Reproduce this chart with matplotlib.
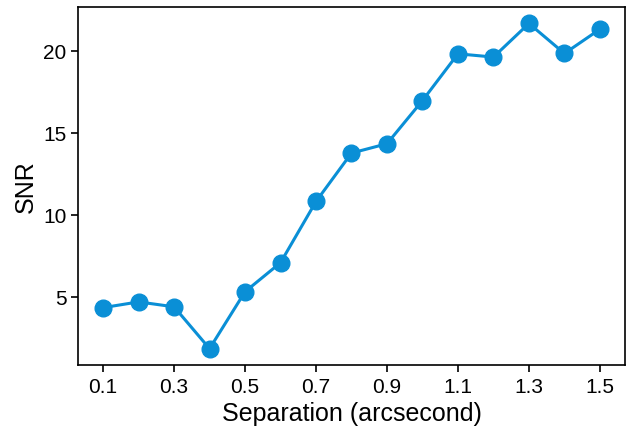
import matplotlib.pyplot as plt

plt.rcParams['font.family'] = ['Liberation Sans', 'DejaVu Sans']

separation = [0.1, 0.2, 0.3, 0.4, 0.5, 0.6, 0.7, 0.8, 0.9, 1.0, 1.1, 1.2, 1.3, 1.4, 1.5]
snr = [4.33, 4.68, 4.38, 1.83, 5.3, 7.07, 10.8, 13.75, 14.32, 16.95, 19.8, 19.6, 21.65, 19.82, 21.3]
xticks = [0.1, 0.3, 0.5, 0.7, 0.9, 1.1, 1.3, 1.5]

fig = plt.figure(figsize=(6.26, 4.31), dpi=100)
ax = fig.add_axes([0.125, 0.151, 0.873, 0.83])
ax.plot(separation, snr, color='#0a8fd6', lw=2.2, marker='o', ms=12)
ax.set_xticks(xticks)
ax.set_xticklabels([f'{t:.1f}' for t in xticks])
ax.set_yticks([5, 10, 15, 20])
ax.tick_params(labelsize=15, length=5, width=1.2)
for s in ax.spines.values():
    s.set_linewidth(1.2)
ax.set_xlabel('Separation (arcsecond)', fontsize=18)
ax.set_ylabel('SNR', fontsize=18)
fig.savefig('out.png', dpi=100)
